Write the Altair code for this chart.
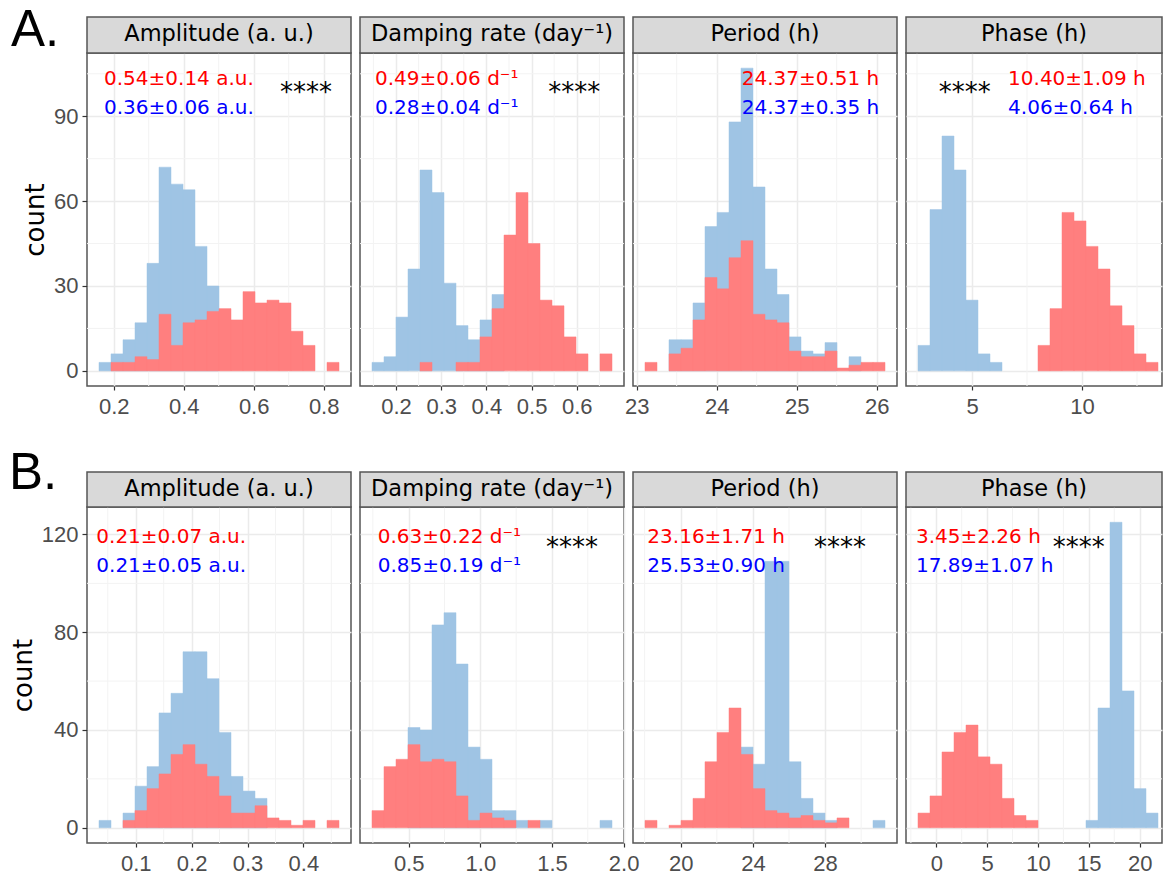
import altair as alt
import pandas as pd

FONT = "DejaVu Sans"
AXFONT = "Liberation Sans"
RED = "#FF7F7F"
BLUE = "#9FC4E4"
BORDER = "#555555"

strip_titles = ["Amplitude (a. u.)", "Damping rate (day⁻¹)", "Period (h)", "Phase (h)"]
row_labels = ["A.", "B."]

# ---------------- Row A: histogram bins (first bin start, bin width) ----------------
A_bin_start = [0.158, 0.1469, 23.104, 2.545]
A_bin_width = [0.03429, 0.02655, 0.15, 0.5455]

A_amp_blue = [3, 6, 11, 17, 38, 72, 66, 64, 44, 30, 0, 0, 0, 0, 0, 0, 0, 0, 0, 0]
A_amp_red = [0, 3, 3, 5, 4, 20, 9, 17, 18, 21, 22, 18, 28, 24, 25, 24, 14, 9, 0, 3]
A_damp_blue = [3, 5, 19, 36, 71, 63, 31, 16, 11, 18, 27, 0, 0, 0, 0, 0, 0, 0, 0, 0]
A_damp_red = [0, 0, 0, 0, 3, 0, 0, 3, 3, 12, 22, 48, 63, 45, 25, 23, 12, 6, 0, 6]
A_per_blue = [0, 0, 11, 11, 24, 51, 56, 88, 107, 65, 36, 27, 12, 7, 6, 10, 0, 5, 0, 0]
A_per_red = [3, 0, 6, 8, 18, 33, 29, 40, 46, 20, 18, 17, 7, 5, 5, 7, 1, 2, 3, 3]
A_pha_blue = [9, 57, 83, 71, 25, 6, 3, 0, 0, 0, 0, 0, 0, 0, 0, 0, 0, 0, 0, 0]
A_pha_red = [0, 0, 0, 0, 0, 0, 0, 0, 0, 0, 9, 22, 56, 53, 44, 36, 23, 16, 6, 3]

A_red_text = ["0.54±0.14 a.u.", "0.49±0.06 d⁻¹", "24.37±0.51 h", "10.40±1.09 h"]
A_blue_text = ["0.36±0.06 a.u.", "0.28±0.04 d⁻¹", "24.37±0.35 h", "4.06±0.64 h"]
A_text_x = [0.1723, 0.1535, 24.3125, 6.64]
A_star_x = [0.675, 0.537, None, 3.49]
A_text_y = [101.1, 90.7, 95.3]  # red line, blue line, stars (count units)

A_x_major = [[0.2, 0.4, 0.6, 0.8], [0.2, 0.3, 0.4, 0.5, 0.6], [23, 24, 25, 26], [5, 10]]
A_x_minor = [[0.3, 0.5, 0.7], [0.15, 0.25, 0.35, 0.45, 0.55, 0.65], [23.5, 24.5, 25.5], [2.5, 7.5, 12.5]]
A_y_major = [0, 30, 60, 90]
A_y_minor = [15, 45, 75, 105]
A_y_domain = [-5.35, 112.35]

# ---------------- Row B ----------------
B_bin_start = [0.0343, 0.244, 18.02, -1.80]
B_bin_width = [0.02147, 0.08374, 0.665, 1.18]

B_amp_blue = [3, 0, 6, 17, 25, 47, 55, 72, 72, 61, 39, 21, 15, 12, 0, 0, 0, 0, 0, 0]
B_amp_red = [0, 0, 3, 7, 16, 22, 30, 34, 26, 21, 13, 6, 6, 9, 4, 3, 1, 3, 0, 3]
B_damp_blue = [0, 0, 0, 41, 40, 83, 88, 67, 33, 28, 7, 7, 3, 0, 3, 0, 0, 0, 0, 3]
B_damp_red = [7, 25, 28, 34, 27, 28, 27, 13, 3, 6, 4, 3, 0, 3, 0, 0, 0, 0, 0, 0]
B_per_blue = [0, 0, 0, 0, 0, 0, 0, 0, 33, 26, 109, 109, 27, 12, 6, 3, 0, 0, 0, 3]
B_per_red = [3, 0, 1, 3, 12, 27, 39, 49, 30, 16, 7, 6, 4, 5, 3, 2, 4, 0, 0, 0]
B_pha_blue = [0, 0, 0, 0, 0, 0, 0, 0, 0, 0, 0, 0, 0, 0, 3, 49, 125, 56, 16, 6]
B_pha_red = [6, 13, 31, 39, 42, 29, 26, 12, 5, 3, 0, 0, 0, 0, 0, 0, 0, 0, 0, 0]

B_red_text = ["0.21±0.07 a.u.", "0.63±0.22 d⁻¹", "23.16±1.71 h", "3.45±2.26 h"]
B_blue_text = ["0.21±0.05 a.u.", "0.85±0.19 d⁻¹", "25.53±0.90 h", "17.89±1.07 h"]
B_text_x = [0.0295, 0.2837, 18.15, -2.0]
B_star_x = [None, 1.458, 27.39, 11.44]
B_text_y = [116.4, 104.6, 111.4]

B_x_major = [[0.1, 0.2, 0.3, 0.4], [0.5, 1.0, 1.5, 2.0], [20, 24, 28], [0, 5, 10, 15, 20]]
B_x_minor = [[0.05, 0.15, 0.25, 0.35, 0.45], [0.25, 0.75, 1.25, 1.75], [18, 22, 26, 30], [-2.5, 2.5, 7.5, 12.5, 17.5]]
B_y_major = [0, 40, 80, 120]
B_y_minor = [20, 60, 100]
B_y_domain = [-6.25, 131.25]

x_formats = [".1f", ".1f", "d", "d"]

# ---------------- layout (style) ----------------
PANEL_W = [264, 264, 264, 256]
PANEL_H = [333, 336]
STRIP_H = [36, 35]
STRIP_BASE = [-12, -11]
LABEL_POS = [(-76, -7), (-78, -18)]
PX_PER_BIN = 12


def panel(r, j, start, width, blue, red, red_t, blue_t, tx, sx, ty,
          xmaj, xmin, ymaj, ymin, ydom):
    W = PANEL_W[j]
    H = PANEL_H[r]
    d0 = start - width
    d1 = d0 + W / PX_PER_BIN * width
    xs = alt.Scale(domain=[d0, d1], nice=False, zero=False)
    ys = alt.Scale(domain=ydom, nice=False, zero=False)
    xaxis = alt.Axis(values=xmaj, title=None, format=x_formats[j], labelFont=AXFONT,
                     labelFontSize=22, labelColor="#4D4D4D", tickColor="#333333",
                     tickSize=4, tickWidth=1.2, labelPadding=6, domain=False,
                     grid=True, gridColor="#EBEBEB", gridWidth=1.5,
                     labelFlush=False, labelOverlap=False)
    if j == 0:
        yaxis = alt.Axis(values=ymaj, title="count", titleFont=FONT, titleFontSize=26,
                         titleFontWeight="normal", titleColor="black", titlePadding=5,
                         labelFont=AXFONT, labelFontSize=22, labelColor="#4D4D4D",
                         tickColor="#333333", tickSize=5, tickWidth=1.2, labelPadding=4,
                         domain=False, grid=True, gridColor="#EBEBEB", gridWidth=1.5)
    else:
        yaxis = alt.Axis(values=ymaj, title=None, labels=False, ticks=False, domain=False,
                         grid=True, gridColor="#EBEBEB", gridWidth=1.5)

    n = len(blue)
    x0 = [start + i * width for i in range(n)]
    x1 = [start + (i + 1) * width for i in range(n)]
    df_b = pd.DataFrame({"x0": x0, "x1": x1, "count": blue, "base": 0})
    df_r = pd.DataFrame({"x0": x0, "x1": x1, "count": red, "base": 0})
    df_b = df_b[df_b["count"] > 0]
    df_r = df_r[df_r["count"] > 0]

    minor_x = alt.Chart(pd.DataFrame({"v": xmin})).mark_rule(
        color="#F3F3F3", strokeWidth=1).encode(x=alt.X("v:Q", scale=xs, axis=xaxis))
    minor_y = alt.Chart(pd.DataFrame({"c": ymin})).mark_rule(
        color="#F3F3F3", strokeWidth=1).encode(y=alt.Y("c:Q", scale=ys, axis=yaxis))

    def bars(df, color):
        return alt.Chart(df).mark_rect(fill=color, stroke=color, strokeWidth=0.5).encode(
            x=alt.X("x0:Q", scale=xs, axis=xaxis), x2="x1:Q",
            y=alt.Y("count:Q", scale=ys, axis=yaxis), y2="base:Q")

    layers = [minor_x, minor_y, bars(df_b, BLUE), bars(df_r, RED)]

    txt = pd.DataFrame({"x": [tx, tx], "y": [ty[0], ty[1]], "t": [red_t, blue_t],
                        "c": ["red", "blue"]})
    layers.append(alt.Chart(txt).mark_text(font=FONT, fontSize=20, align="left",
                                           baseline="alphabetic").encode(
        x=alt.X("x:Q", scale=xs, axis=xaxis), y=alt.Y("y:Q", scale=ys, axis=yaxis),
        text="t:N", color=alt.Color("c:N", scale=None)))
    if sx is not None:
        st = pd.DataFrame({"x": [sx], "y": [ty[2]], "t": ["****"]})
        layers.append(alt.Chart(st).mark_text(font=FONT, fontSize=26, align="left",
                                              baseline="alphabetic", color="black").encode(
            x=alt.X("x:Q", scale=xs, axis=xaxis), y=alt.Y("y:Q", scale=ys, axis=yaxis),
            text="t:N"))

    one = pd.DataFrame({"t": [strip_titles[j]]})
    layers.append(alt.Chart(one).mark_rect(fill="#D9D9D9", stroke=BORDER,
                                           strokeWidth=1.5).encode(
        x=alt.value(0), x2=alt.value(W), y=alt.value(-STRIP_H[r]), y2=alt.value(0)))
    layers.append(alt.Chart(one).mark_text(font=FONT, fontSize=22.5, color="black",
                                           align="center", baseline="alphabetic").encode(
        x=alt.value(W / 2), y=alt.value(STRIP_BASE[r]), text="t:N"))
    if j == 0:
        lab = pd.DataFrame({"t": [row_labels[r]]})
        layers.append(alt.Chart(lab).mark_text(font="Liberation Sans", fontSize=51,
                                               color="black", align="left",
                                               baseline="alphabetic").encode(
            x=alt.value(LABEL_POS[r][0]), y=alt.value(LABEL_POS[r][1]), text="t:N"))
    return alt.layer(*layers).properties(width=W, height=H)


A_blue = [A_amp_blue, A_damp_blue, A_per_blue, A_pha_blue]
A_red = [A_amp_red, A_damp_red, A_per_red, A_pha_red]
B_blue = [B_amp_blue, B_damp_blue, B_per_blue, B_pha_blue]
B_red = [B_amp_red, B_damp_red, B_per_red, B_pha_red]

panels = []
for j in range(4):
    panels.append(panel(0, j, A_bin_start[j], A_bin_width[j], A_blue[j], A_red[j],
                        A_red_text[j], A_blue_text[j], A_text_x[j], A_star_x[j], A_text_y,
                        A_x_major[j], A_x_minor[j], A_y_major, A_y_minor, A_y_domain))
for j in range(4):
    panels.append(panel(1, j, B_bin_start[j], B_bin_width[j], B_blue[j], B_red[j],
                        B_red_text[j], B_blue_text[j], B_text_x[j], B_star_x[j], B_text_y,
                        B_x_major[j], B_x_minor[j], B_y_major, B_y_minor, B_y_domain))

chart = alt.concat(*panels, columns=4, spacing={"row": 121, "column": 9},
                   bounds="flush").properties(
    padding={"left": 8, "top": 4, "right": 0, "bottom": 5},
    background="white",
).configure_view(stroke=BORDER, strokeWidth=1.5)

chart.save("out.html", embed_options={"renderer": "svg", "actions": False})
